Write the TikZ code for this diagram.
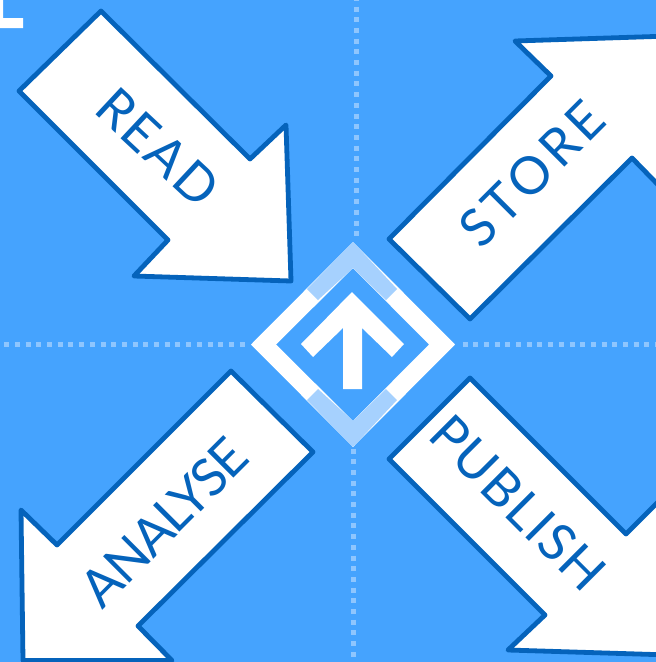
\documentclass[tikz,border=0pt]{standalone}
\usepackage{fontspec}
\setmainfont{Lato}
\newfontfamily\lblread[LetterSpace=5]{Lato}
\newfontfamily\lblstore[LetterSpace=9]{Lato}
\newfontfamily\lblpub[LetterSpace=3]{Lato}
\newfontfamily\lblana[LetterSpace=-3]{Lato}
\definecolor{bgblue}{HTML}{45A3FE}
\definecolor{edgeblue}{HTML}{0563BB}
\definecolor{paleblue}{HTML}{A6D1FE}
\definecolor{dotblue}{HTML}{8FC6FE}
\tikzset{
  arrowshape/.style={draw=edgeblue,fill=white,line width=4.8pt,line join=round},
  dotline/.style={draw=dotblue,line width=5pt,dash pattern=on 5pt off 5.7pt},
  arrowlabel/.style={text=edgeblue,inner sep=0pt,transform shape},
}
\begin{document}
\begin{tikzpicture}[x=1pt,y=-1pt]
\useasboundingbox (0,0) rectangle (656,662);
\fill[bgblue] (0,0) rectangle (656,662);
\coordinate (top) at (356,-4.2);
\coordinate (topd) at (356,236);
\coordinate (botd) at (353,448.5);
\coordinate (bot) at (353,670);
\coordinate (left) at (-6.5,344);
\coordinate (leftd) at (245,344);
\coordinate (rightd) at (462.5,344);
\coordinate (right) at (664,344);
\begin{scope}
\clip (0,0) rectangle (656,662);
\draw[dotline] (top) -- (topd);
\draw[dotline] (botd) -- (bot);
\draw[dotline] (left) -- (leftd);
\draw[dotline] (rightd) -- (right);
\fill[white] (0,0) -- (3,0) -- (3,18) -- (23,18) -- (23,28) -- (0,28) -- cycle;
\draw[arrowshape] (101,11) -- (19,91) -- (168,240) -- (134,276) -- (291,281) -- (286,125) -- (250,159) -- cycle;
\draw[arrowshape] (389,239) -- (551,76) -- (515,41) -- (670,36) -- (670,197) -- (632,158) -- (470,319) -- cycle;
\draw[arrowshape] (470,378) -- (389,459) -- (545,615) -- (508,650) -- (670,655) -- (670,490) -- (626,534) -- cycle;
\draw[arrowshape] (231,371) -- (313,452) -- (138,626) -- (172,660.5) -- (23,660.5) -- (21,510) -- (57,545) -- cycle;
\end{scope}
% centre diamond
\fill[white,even odd rule] (251,344.5) -- (353,242) -- (455,344.5) -- (353,447) -- cycle (276,344.5) -- (353,268) -- (429,344.5) -- (353,421) -- cycle;
\fill[paleblue] (307,289) -- (353,242) -- (397,289) -- (386,300) -- (353,268) -- (318,300) -- cycle;
\fill[paleblue] (307,400) -- (353,447) -- (397,400) -- (386,389) -- (353,421) -- (318,389) -- cycle;
\fill[white] (352,292) -- (301,344) -- (313,357) -- (343,328) -- (343,389) -- (362,389) -- (362,328) -- (392,357) -- (404,344) -- cycle;
\node[arrowlabel,rotate=-43,font=\lblread\fontsize{52}{52}\selectfont] (read) at (158,147) {READ};
\node[arrowlabel,rotate=45,font=\lblstore\fontsize{52}{52}\selectfont] (store) at (532,174) {STORE};
\node[arrowlabel,rotate=-45,font=\lblpub\fontsize{52}{52}\selectfont] (publish) at (518,503) {PUBLISH};
\node[arrowlabel,rotate=45,font=\lblana\fontsize{52}{52}\selectfont] (analyse) at (164,522) {ANALYSE};
\end{tikzpicture}
\end{document}
